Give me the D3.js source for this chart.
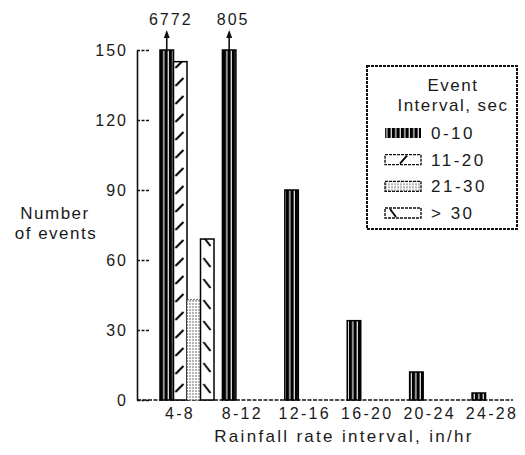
<!DOCTYPE html>
<html>
<head>
<meta charset="utf-8">
<script src="https://cdn.jsdelivr.net/npm/d3@7"></script>
<style>
  body { margin: 0; background: #fff; }
  text { font-family: "Liberation Sans", Arial, sans-serif; fill: #1a1a1a; }
</style>
</head>
<body>
<div id="chart"></div>
<script>
// rainfall rate intervals (in/hr) and event interval classes (sec)
const categories = ['4-8', '8-12', '12-16', '16-20', '20-24', '24-28'];
const intervals = ['0-10', '11-20', '21-30', '> 30'];
const events0to10 = [6772, 805, 90, 34, 12, 3];
const events11to20 = [145, 0, 0, 0, 0, 0];
const events21to30 = [43, 0, 0, 0, 0, 0];
const eventsOver30 = [69, 0, 0, 0, 0, 0];
const yTicks = [0, 30, 60, 90, 120, 150];
const yMax = 150;

const width = 525, height = 455;

const svg = d3.select('#chart')
    .append('svg')
    .attr('width', width)
    .attr('height', height);

// scales
const y = d3.scaleLinear().domain([0, yMax]).range([400, 50]);
const x = d3.scaleBand().domain(categories).range([160, 512]).paddingInner(0.36).paddingOuter(0);
const xSub = d3.scaleBand().domain(intervals).range([0, 54]);
const bw = xSub.bandwidth();

// fill patterns for each event interval, tiles lined up with the first group
const defs = svg.append('defs');

const pStripe = defs.append('pattern')
    .attr('id', 'fill-a').attr('patternUnits', 'userSpaceOnUse')
    .attr('x', x(categories[0])).attr('width', bw / 3).attr('height', 10);
pStripe.append('rect').attr('width', bw / 3).attr('height', 10).attr('fill', '#000');
pStripe.append('rect').attr('x', bw / 3 - 1.3).attr('width', 1.3).attr('height', 10).attr('fill', '#ddd');

const pSlash = defs.append('pattern')
    .attr('id', 'fill-b').attr('patternUnits', 'userSpaceOnUse')
    .attr('x', x(categories[0])).attr('width', bw).attr('height', 18);
pSlash.append('rect').attr('width', bw).attr('height', 18).attr('fill', '#fff');
pSlash.append('line').attr('x1', 2).attr('y1', 14).attr('x2', 10).attr('y2', 6)
    .attr('stroke', '#000').attr('stroke-width', 2);

const pDots = defs.append('pattern')
    .attr('id', 'fill-c').attr('patternUnits', 'userSpaceOnUse')
    .attr('width', 3).attr('height', 3);
pDots.append('rect').attr('width', 3).attr('height', 3).attr('fill', '#fff');
pDots.append('circle').attr('cx', 1).attr('cy', 1).attr('r', 0.7).attr('fill', '#333');

const pBack = defs.append('pattern')
    .attr('id', 'fill-d').attr('patternUnits', 'userSpaceOnUse')
    .attr('x', x(categories[0])).attr('width', bw).attr('height', 21);
pBack.append('rect').attr('width', bw).attr('height', 21).attr('fill', '#fff');
pBack.append('line').attr('x1', 3).attr('y1', 6).attr('x2', 10).attr('y2', 15)
    .attr('stroke', '#000').attr('stroke-width', 2);

const fills = ['url(#fill-a)', 'url(#fill-b)', 'url(#fill-c)', 'url(#fill-d)'];
const outlines = ['#000', '#000', '#444', '#000'];

// y axis with dashed ticks pointing inward
const yAxis = svg.append('g')
    .attr('transform', 'translate(137,0)')
    .call(d3.axisLeft(y).tickValues(yTicks).tickSizeInner(-13).tickSizeOuter(0).tickPadding(9));
yAxis.select('.domain').attr('stroke', '#111').attr('stroke-width', 1.6);
yAxis.selectAll('.tick line').attr('stroke', '#111').attr('stroke-width', 1.4).attr('stroke-dasharray', '3,1.5');
yAxis.selectAll('.tick text')
    .style('font-size', '16px').style('letter-spacing', '2px')
    .attr('fill', '#1a1a1a');

// dashed baseline
svg.append('line')
    .attr('x1', 137).attr('x2', 513)
    .attr('y1', y(0)).attr('y2', y(0))
    .attr('stroke', '#111').attr('stroke-width', 1.6).attr('stroke-dasharray', '4,1.5');

// x axis labels only
const xAxis = svg.append('g')
    .attr('transform', `translate(0,${y(0)})`)
    .call(d3.axisBottom(x).tickSize(0).tickPadding(8));
xAxis.select('.domain').remove();
xAxis.selectAll('.tick text')
    .style('font-size', '16px').style('letter-spacing', '2.3px')
    .attr('fill', '#1a1a1a');

// bars
const series = [events0to10, events11to20, events21to30, eventsOver30];
const barData = [];
categories.forEach((c, i) => {
    intervals.forEach((k, j) => {
        if (series[j][i] > 0) barData.push({ cat: c, key: k, j: j, value: series[j][i] });
    });
});

svg.selectAll('.bar')
    .data(barData)
    .enter()
    .append('rect')
    .attr('class', 'bar')
    .attr('x', d => x(d.cat) + xSub(d.key))
    .attr('y', d => y(Math.min(d.value, yMax)))
    .attr('width', bw)
    .attr('height', d => y(0) - y(Math.min(d.value, yMax)))
    .attr('fill', d => fills[d.j])
    .attr('stroke', d => outlines[d.j])
    .attr('stroke-width', d => d.j === 2 ? 0.8 : 1.5)
    .attr('stroke-dasharray', d => d.j === 2 ? '2,1' : null);

// off-scale bars: arrow plus the true count
const over = barData.filter(d => d.value > yMax);
over.forEach(d => {
    const cx = x(d.cat) + xSub(d.key) + bw / 2;
    const top = y(yMax);
    svg.append('line')
        .attr('x1', cx).attr('x2', cx)
        .attr('y1', top).attr('y2', top - 14)
        .attr('stroke', '#111').attr('stroke-width', 1.6);
    svg.append('path')
        .attr('d', `M${cx - 3},${top - 12}L${cx},${top - 20}L${cx + 3},${top - 12}Z`)
        .attr('fill', '#111');
    svg.append('text')
        .attr('x', cx + 4).attr('y', 25)
        .attr('text-anchor', 'middle')
        .style('font-size', '16px').style('letter-spacing', '2px')
        .text(d.value);
});

// axis titles
svg.append('text')
    .attr('x', 55).attr('y', 219)
    .attr('text-anchor', 'middle')
    .style('font-size', '17px').style('letter-spacing', '1.5px')
    .text('Number');
svg.append('text')
    .attr('x', 56).attr('y', 239)
    .attr('text-anchor', 'middle')
    .style('font-size', '17px').style('letter-spacing', '1.5px')
    .text('of events');
svg.append('text')
    .attr('x', 344).attr('y', 442)
    .attr('text-anchor', 'middle')
    .style('font-size', '17px').style('letter-spacing', '2.3px')
    .text('Rainfall rate interval, in/hr');

// legend
const legend = svg.append('g');
legend.append('rect')
    .attr('x', 367).attr('y', 66)
    .attr('width', 150).attr('height', 163)
    .attr('fill', '#fff')
    .attr('stroke', '#111').attr('stroke-width', 2).attr('stroke-dasharray', '3,1');
legend.append('text')
    .attr('x', 453).attr('y', 91)
    .attr('text-anchor', 'middle')
    .style('font-size', '17px').style('letter-spacing', '1.5px')
    .text('Event');
legend.append('text')
    .attr('x', 453).attr('y', 111)
    .attr('text-anchor', 'middle')
    .style('font-size', '17px').style('letter-spacing', '1.5px')
    .text('Interval, sec');

const rowY = d3.scalePoint().domain(intervals).range([133, 213]);
const rows = legend.selectAll('.row')
    .data(intervals)
    .enter()
    .append('g')
    .attr('class', 'row')
    .attr('transform', d => `translate(385,${rowY(d)})`);
rows.append('rect')
    .attr('x', 0).attr('y', -5)
    .attr('width', 36).attr('height', 10)
    .attr('fill', (d, i) => i === 1 || i === 3 ? '#fff' : fills[i])
    .attr('stroke', (d, i) => i === 0 ? null : '#111')
    .attr('stroke-width', 1.4)
    .attr('stroke-dasharray', (d, i) => i === 0 ? null : '3,1');
// small diagonal marks in the hatched swatches
rows.filter((d, i) => i === 1).append('line')
    .attr('x1', 15).attr('y1', 4).attr('x2', 22).attr('y2', -4)
    .attr('stroke', '#000').attr('stroke-width', 1.8);
rows.filter((d, i) => i === 3).append('line')
    .attr('x1', 5).attr('y1', -4).attr('x2', 11).attr('y2', 4)
    .attr('stroke', '#000').attr('stroke-width', 1.8);
rows.append('text')
    .attr('x', 46).attr('y', 6)
    .style('font-size', '17px').style('letter-spacing', '2.5px')
    .text(d => d);
</script>
</body>
</html>
